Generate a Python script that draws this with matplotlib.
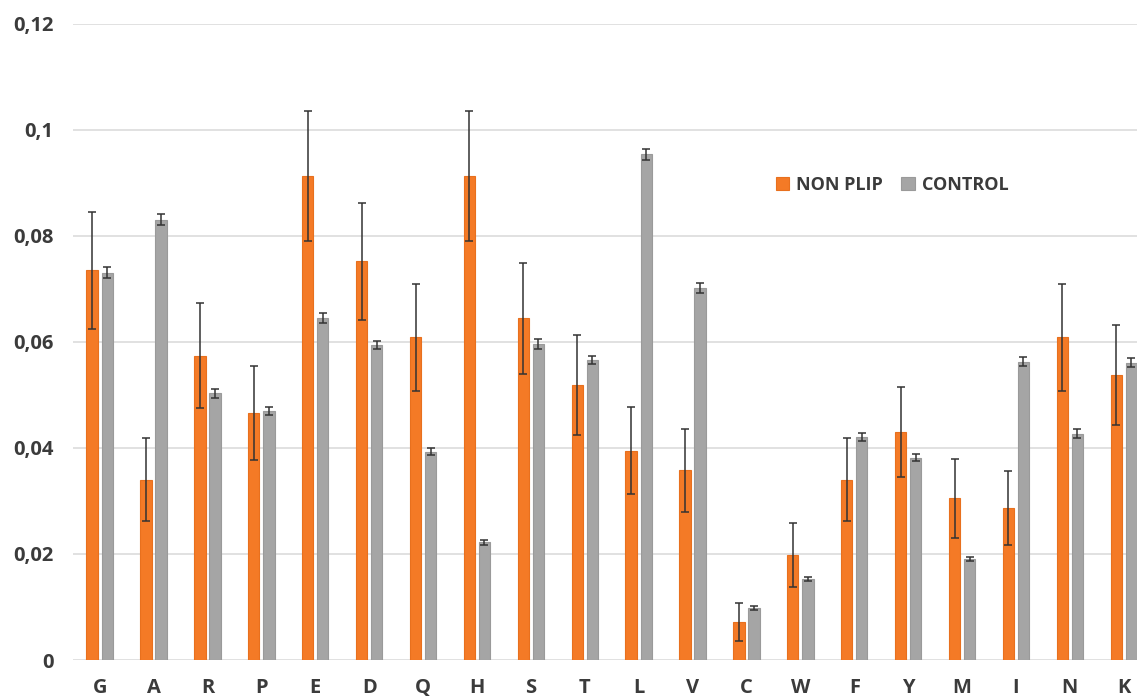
import matplotlib.pyplot as plt
import numpy as np

# amino acids on the x axis
categories = ['G', 'A', 'R', 'P', 'E', 'D', 'Q', 'H', 'S', 'T',
              'L', 'V', 'C', 'W', 'F', 'Y', 'M', 'I', 'N', 'K']

non_plip = [0.0735, 0.0340, 0.0574, 0.0466, 0.0913, 0.0752, 0.0609, 0.0913, 0.0645, 0.0519,
            0.0395, 0.0358, 0.0072, 0.0198, 0.0340, 0.0430, 0.0305, 0.0287, 0.0609, 0.0538]
non_plip_err = [0.0111, 0.0078, 0.0099, 0.0089, 0.0122, 0.0110, 0.0101, 0.0122, 0.0105, 0.0094,
                0.0082, 0.0078, 0.0036, 0.0060, 0.0078, 0.0085, 0.0074, 0.0070, 0.0101, 0.0095]

control = [0.0731, 0.0831, 0.0503, 0.0470, 0.0645, 0.0594, 0.0393, 0.0222, 0.0596, 0.0566,
           0.0954, 0.0702, 0.0098, 0.0153, 0.0421, 0.0382, 0.0190, 0.0563, 0.0427, 0.0561]
control_err = [0.0010, 0.0011, 0.0008, 0.0007, 0.0010, 0.0008, 0.0007, 0.0005, 0.0009, 0.0008,
               0.0010, 0.0010, 0.0004, 0.0004, 0.0008, 0.0007, 0.0004, 0.0008, 0.0008, 0.0008]

yticks = [0, 0.02, 0.04, 0.06, 0.08, 0.1, 0.12]
ytick_labels = ['0', '0,02', '0,04', '0,06', '0,08', '0,1', '0,12']

text_col = '#3b3b3b'
plt.rcParams['font.family'] = ['Open Sans', 'DejaVu Sans']

fig = plt.figure(figsize=(11.37, 6.98), dpi=100)
# axes runs a little past the right edge, like the cropped original
ax = fig.add_axes([72.7 / 1137, 38 / 698, 1078 / 1137, 636 / 698])

x = np.arange(len(categories))
w = 0.21
err_kw = dict(ecolor='#333333', elinewidth=1.1, capsize=3.2, capthick=1.1)

ax.bar(x - 0.14, non_plip, w, yerr=non_plip_err, color='#F47A26', edgecolor='#E8701E',
       linewidth=0.8, label='NON PLIP', error_kw=err_kw, zorder=3)
ax.bar(x + 0.14, control, w, yerr=control_err, color='#A5A5A5', edgecolor='#9A9A9A',
       linewidth=0.8, label='CONTROL', error_kw=err_kw, zorder=3)

ax.set_xlim(-0.5, len(categories) - 0.5)
ax.set_ylim(0, 0.12)
ax.set_yticks(yticks)
ax.set_yticklabels(ytick_labels)
ax.set_xticks(x)
ax.set_xticklabels(categories)

for lab in ax.get_xticklabels() + ax.get_yticklabels():
    lab.set_fontweight('bold')
    lab.set_fontsize(14.5)
    lab.set_color(text_col)

ax.tick_params(axis='both', length=0)
ax.tick_params(axis='y', pad=14)
ax.tick_params(axis='x', pad=13)

ax.grid(axis='y', color='#D9D9D9', linewidth=1.1, zorder=0)
for s in ax.spines.values():
    s.set_visible(False)

leg = ax.legend(loc='center', bbox_to_anchor=(0.76, 0.747), ncol=2, frameon=False,
                handlelength=0.75, handleheight=0.75, handletextpad=0.4, columnspacing=1.0,
                prop={'weight': 'bold', 'size': 13})
for t in leg.get_texts():
    t.set_color(text_col)

fig.savefig('out.png', dpi=100)
